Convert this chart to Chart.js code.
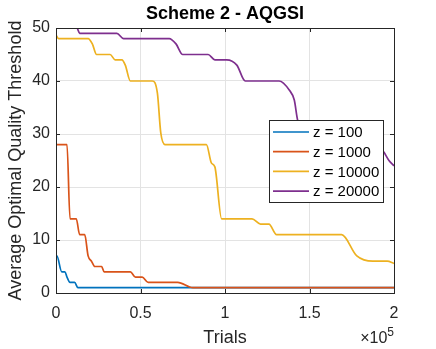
<!DOCTYPE html>
<html lang="en">
  <head>
    <meta charset="UTF-8" />
    <script src="https://cdn.jsdelivr.net/npm/chart.js@4.4.0/dist/chart.umd.min.js"></script>
    <title>Scheme 2 - AQGSI</title>
    <style>
      body { margin: 0; background: #fff; }
    </style>
  </head>
  <body>
    <canvas id="myChart" width="436" height="349"></canvas>

    <script>
      // values: trials (x) and threshold (y) per curve
      var seriesNames = ["z = 100", "z = 1000", "z = 10000", "z = 20000"];

      var trialsZ100 = [0, 500, 3400, 5300, 6500, 8300, 11000, 13000, 200000];
      var valuesZ100 = [7, 7, 4, 4, 3, 2, 2, 1, 1];

      var trialsZ1000 = [0, 6500, 8300, 12000, 14000, 17000, 19000, 21000, 23000, 27000, 28500,
        44000, 47000, 51000, 54500, 72000, 81000, 200000];
      var valuesZ1000 = [28, 28, 14, 14, 11, 11, 7, 6, 5, 5, 4, 4, 3, 3, 2, 2, 1, 1];

      var trialsZ10000 = [0, 1500, 19000, 21500, 24000, 32000, 35000, 39000, 41000, 44000, 57000,
        60000, 62000, 64500, 89000, 92000, 94000, 98000, 116000, 121000, 126000, 130500,
        169000, 178000, 187500, 196000, 200000];
      var valuesZ10000 = [48.7, 48, 48, 47, 45, 45, 44, 44, 43, 40, 40, 37.7, 30.2, 28, 28, 24.5,
        23.8, 14, 14, 13, 13, 11, 11, 7, 6, 6, 5.6];

      var trialsZ20000 = [0, 12400, 14000, 36000, 40000, 67000, 71000, 75000, 90000, 94000, 101000,
        107000, 112000, 132000, 138000, 141000, 143000, 148000, 170000, 185000, 193000,
        197000, 200000];
      var valuesZ20000 = [50, 50, 49, 49, 48, 48, 47, 45, 45, 44, 44, 43, 40, 40, 38.3, 36.4, 32.6,
        30, 29, 28, 27, 25, 24];

      var yTicks = [0, 10, 20, 30, 40, 50];
      var xTicks = [0, 50000, 100000, 150000, 200000];

      var colors = ["#0072BD", "#D95319", "#EDB120", "#7E2F8E"];
      var axisColor = "#262626";
      var fontFam = "'Liberation Sans', Arial, Helvetica, sans-serif";

      function points(xs, ys) {
        var out = [];
        for (var i = 0; i < xs.length; i++) {
          out.push({ x: xs[i], y: ys[i] });
        }
        return out;
      }

      var allTrials = [trialsZ100, trialsZ1000, trialsZ10000, trialsZ20000];
      var allValues = [valuesZ100, valuesZ1000, valuesZ10000, valuesZ20000];
      var datasets = [];
      for (var i = 0; i < seriesNames.length; i++) {
        datasets.push({
          label: seriesNames[i],
          data: points(allTrials[i], allValues[i]),
          borderColor: colors[i],
          backgroundColor: colors[i],
          borderWidth: 1.7,
          pointRadius: 0,
          fill: false,
          cubicInterpolationMode: "monotone",
          order: seriesNames.length - i, // later curves drawn on top, like MATLAB
        });
      }

      // box, inward ticks, x10^5 label and the legend box, MATLAB style
      var matlabAxes = {
        id: "matlabAxes",
        afterDraw: function (chart) {
          var ctx = chart.ctx;
          var a = chart.chartArea;
          var xs = chart.scales.x;
          var ys = chart.scales.y;
          ctx.save();

          ctx.strokeStyle = axisColor;
          ctx.lineWidth = 1;
          ctx.beginPath();
          ctx.rect(Math.round(a.left) + 0.5, Math.round(a.top) + 0.5,
            Math.round(a.right - a.left), Math.round(a.bottom - a.top));
          xs.ticks.forEach(function (t) {
            var px = Math.round(xs.getPixelForValue(t.value)) + 0.5;
            ctx.moveTo(px, a.bottom); ctx.lineTo(px, a.bottom - 4);
            ctx.moveTo(px, a.top); ctx.lineTo(px, a.top + 4);
          });
          ys.ticks.forEach(function (t) {
            var py = Math.round(ys.getPixelForValue(t.value)) + 0.5;
            ctx.moveTo(a.left, py); ctx.lineTo(a.left + 4, py);
            ctx.moveTo(a.right, py); ctx.lineTo(a.right - 4, py);
          });
          ctx.stroke();

          // exponent label under the right end of the x axis
          ctx.fillStyle = axisColor;
          ctx.textBaseline = "middle";
          ctx.textAlign = "right";
          ctx.font = "12px " + fontFam;
          ctx.fillText("5", a.right, a.bottom + 40);
          var w5 = ctx.measureText("5").width;
          ctx.font = "16px " + fontFam;
          ctx.fillText("\u00d710", a.right - w5, a.bottom + 46);

          // legend
          var bx = a.right - 125, by = a.top + 92, bw = 114, bh = 82;
          ctx.fillStyle = "#fff";
          ctx.fillRect(bx, by, bw, bh);
          ctx.strokeStyle = axisColor;
          ctx.lineWidth = 1;
          ctx.strokeRect(bx + 0.5, by + 0.5, bw, bh);
          ctx.font = "15px " + fontFam;
          ctx.textAlign = "left";
          chart.data.datasets.forEach(function (ds, k) {
            var ry = by + 12 + k * 19.7;
            ctx.strokeStyle = ds.borderColor;
            ctx.lineWidth = 1.7;
            ctx.beginPath();
            ctx.moveTo(bx + 4, ry); ctx.lineTo(bx + 40, ry);
            ctx.stroke();
            ctx.fillStyle = "#000";
            ctx.fillText(ds.label, bx + 44, ry + 1);
          });
          ctx.restore();
        },
      };

      var c = new Chart("myChart", {
        type: "line",
        data: { datasets: datasets },
        plugins: [matlabAxes],
        options: {
          responsive: false,
          animation: false,
          events: [],
          layout: { padding: { left: 0, right: 42, top: 0, bottom: 0 } },
          plugins: {
            legend: { display: false },
            tooltip: { enabled: false },
            title: {
              display: true,
              text: "Scheme 2 - AQGSI",
              fullSize: false,
              color: "#000",
              font: { family: fontFam, size: 18, weight: "bold", lineHeight: 1.2 },
              padding: { top: 3, bottom: 3.4 },
            },
          },
          scales: {
            x: {
              type: "linear",
              min: 0,
              max: 200000,
              afterBuildTicks: function (scale) {
                scale.ticks = xTicks.map(function (v) { return { value: v }; });
              },
              afterFit: function (scale) { scale.height = 56; },
              ticks: {
                color: axisColor,
                padding: 11,
                maxRotation: 0,
                font: { family: fontFam, size: 16 },
                callback: function (v) { return String(v / 100000); },
              },
              grid: { color: "#e3e3e3", drawTicks: false },
              border: { color: axisColor },
              title: {
                display: true,
                text: "Trials",
                color: axisColor,
                font: { family: fontFam, size: 18, lineHeight: 1.2 },
                padding: { top: 0, bottom: 0 },
              },
            },
            y: {
              min: 0,
              max: 50,
              afterBuildTicks: function (scale) {
                scale.ticks = yTicks.map(function (v) { return { value: v }; });
              },
              afterFit: function (scale) { scale.width = 56; },
              ticks: {
                color: axisColor,
                padding: 6,
                font: { family: fontFam, size: 16 },
              },
              grid: { color: "#e3e3e3", drawTicks: false },
              border: { color: axisColor },
              title: {
                display: true,
                text: "Average Optimal Quality Threshold",
                color: axisColor,
                font: { family: fontFam, size: 18, lineHeight: 1.2 },
                padding: { top: 5, bottom: 0 },
              },
            },
          },
        },
      });
    </script>
  </body>
</html>
